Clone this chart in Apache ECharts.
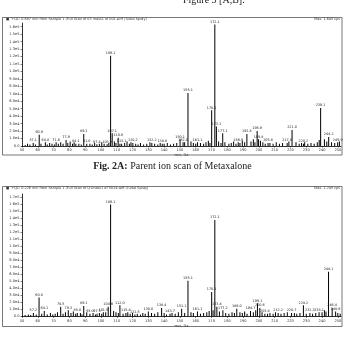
<!DOCTYPE html>
<html>
<head>
<meta charset="utf-8">
<script src="https://cdn.jsdelivr.net/npm/echarts@6/dist/echarts.min.js"></script>
<style>
  html, body { margin: 0; padding: 0; background: #fff; }
  #chart { width: 345px; height: 340px; }
</style>
</head>
<body>
<div id="chart"></div>
<script>
// Fig. 2A - labelled peaks [m/z, intensity cps]
var peaksA = [
  [57.1, 4000], [60.9, 15000], [64.8, 5000], [71.6, 5000], [77.9, 8000],
  [84.1, 3000], [89.1, 16000], [91.0, 3000], [97.4, 2500], [103.9, 2500],
  [106.1, 121000], [107.1, 17000], [110.9, 11000], [113.1, 3000], [120.2, 4000],
  [132.2, 4000], [138.8, 3000], [150.1, 9000], [152.0, 5000], [155.1, 71000],
  [161.1, 5000], [170.1, 48000], [172.1, 163000], [173.1, 26000], [177.1, 17000],
  [186.9, 5000], [192.4, 16000], [198.9, 20000], [199.8, 9000], [205.8, 4000],
  [217.9, 4000], [221.0, 21500], [228.2, 3000], [239.1, 51000], [244.2, 12000],
  [249.9, 5000]
];
// Fig. 2A - unlabelled baseline peaks
var noiseA = [
  [52, 1500], [53.5, 3000], [55, 2000], [58.5, 2000], [62, 3000], [66, 2000],
  [67.5, 4000], [69, 3000], [70.5, 2000], [73, 3000], [74.5, 5000], [76, 3000],
  [79, 4000], [80.5, 6000], [82, 3000], [83, 5000], [86, 3000], [87.5, 2000],
  [93, 3000], [94.5, 2000], [96, 4000], [99, 3000], [100.5, 5000], [102, 3000],
  [105, 4000], [108.5, 6000], [109.5, 4000], [112, 3000], [115, 4000], [116.5, 6000],
  [118, 3000], [119, 5000], [122, 3000], [123.5, 2000], [125, 4000], [127, 2000],
  [129, 3000], [131, 5000], [134, 3000], [136, 2000], [137.5, 4000], [140, 3000],
  [142, 4000], [144, 2000], [146, 3000], [148, 4000], [153, 5000], [157, 6000],
  [158.5, 4000], [160, 3000], [163, 4000], [165, 3000], [166.5, 5000], [168, 7000],
  [169, 4000], [174.5, 6000], [176, 4000], [178.5, 5000], [181, 3000], [182.5, 4000],
  [184, 6000], [185.5, 3000], [188, 4000], [189.5, 7000], [191, 5000], [195, 6000],
  [196.5, 9000], [197.5, 5000], [201, 7000], [202.5, 5000], [204, 3000], [207, 4000],
  [209, 3000], [211, 5000], [213, 3000], [215, 4000], [219, 6000], [223.5, 5000],
  [225.5, 3000], [227, 4000], [229, 5000], [231, 3000], [233, 4000], [235, 3000],
  [237, 5000], [238.2, 8000], [241.5, 9000], [243, 6000], [246, 5000], [248, 4000],
  [251, 6000]
];
// Fig. 2B - labelled peaks
var peaksB = [
  [57.2, 5000], [60.8, 27000], [64.1, 8000], [74.5, 14000], [79.3, 9000],
  [85.0, 5000], [89.1, 15000], [93.0, 4000], [97.5, 4000], [101.5, 6000],
  [104.6, 14000], [106.1, 160000], [112.0, 16000], [115.8, 5000], [121.5, 3000],
  [130.0, 7000], [138.4, 12000], [143.7, 4000], [151.1, 11000], [155.1, 51000],
  [161.1, 7000], [170.1, 35000], [172.1, 138000], [173.4, 14000], [177.2, 9000],
  [186.0, 11000], [194.7, 8000], [199.1, 19000], [200.6, 12000], [203.8, 4000],
  [212.2, 5000], [220.7, 5000], [228.2, 16000], [232.3, 5000], [238.1, 6000],
  [244.1, 64000], [246.4, 12000], [248.6, 7000]
];
// Fig. 2B - unlabelled baseline peaks
var noiseB = [
  [52, 2000], [54, 3000], [55.5, 2000], [59, 3000], [62.5, 4000], [66, 3000],
  [68, 5000], [69.5, 3000], [71, 4000], [72.5, 6000], [76, 4000], [77.5, 6000],
  [81, 5000], [82.5, 7000], [84, 4000], [87, 5000], [88, 3000], [91, 6000],
  [95, 5000], [96.5, 3000], [99, 5000], [100.5, 4000], [103, 6000], [108, 8000],
  [109.5, 6000], [111, 5000], [114, 4000], [117, 6000], [118.5, 4000], [120, 5000],
  [123, 4000], [125, 3000], [126.5, 5000], [128, 4000], [132, 5000], [134, 4000],
  [136, 6000], [140, 5000], [141.5, 3000], [145, 5000], [147, 4000], [149, 6000],
  [153, 5000], [157, 6000], [158.5, 5000], [163, 4000], [165, 5000], [167, 6000],
  [168.5, 8000], [171, 9000], [175, 7000], [179, 5000], [181, 4000], [183, 6000],
  [184.5, 5000], [188, 6000], [189.5, 5000], [191, 7000], [192.5, 4000], [196.5, 6000],
  [198, 9000], [202, 6000], [205.5, 4000], [207, 5000], [209, 4000], [210.5, 6000],
  [214, 4000], [216, 5000], [218, 6000], [222.5, 5000], [224, 4000], [226, 5000],
  [230, 4000], [234, 4000], [236, 5000], [240, 6000], [241.5, 9000], [242.5, 7000],
  [250, 5000], [251.5, 4000]
];
var xMin = 50, xMax = 252, xStep = 10;
var yStepA = 10000, yMaxA = 165000;
var yStepB = 10000, yMaxB = 175000;

function sciLabel(v) {
  if (v === 0) return '0.0';
  return v.toExponential(1).replace('e+', 'e');
}

function buildData(peaks, noise) {
  var out = [];
  noise.forEach(function (p) { out.push({ value: p }); });
  peaks.forEach(function (p) {
    out.push({ value: p, label: { show: true } });
  });
  return out;
}

var myChart = echarts.init(document.getElementById('chart'));

var tickFont = { fontSize: 3.6, color: '#333', fontFamily: 'DejaVu Sans' };

function makeX(gridIndex) {
  return {
    type: 'value', gridIndex: gridIndex, min: xMin, max: xMax, interval: xStep,
    name: 'm/z, Da', nameLocation: 'middle', nameGap: 6,
    nameTextStyle: { fontSize: 3.6, color: '#333', fontFamily: 'DejaVu Sans' },
    axisLine: { lineStyle: { color: '#000', width: 0.8 } },
    axisTick: { length: 1.5, lineStyle: { color: '#000', width: 0.5 } },
    axisLabel: Object.assign({ margin: 2.5, showMaxLabel: false }, tickFont),
    splitLine: { show: false }
  };
}

function makeY(gridIndex, max, step) {
  return {
    type: 'value', gridIndex: gridIndex, min: 0, max: max, interval: step,
    name: 'Intensity, cps', nameLocation: 'middle', nameGap: 15, nameRotate: 90,
    nameTextStyle: { fontSize: 3.6, color: '#333', fontFamily: 'DejaVu Sans' },
    axisLine: { show: true, lineStyle: { color: '#000', width: 0.8 } },
    axisTick: { show: true, length: 1.5, lineStyle: { color: '#000', width: 0.5 } },
    axisLabel: Object.assign({ margin: 2.5, showMaxLabel: false, formatter: sciLabel }, tickFont),
    splitLine: { show: false }
  };
}

function makeSeries(idx, peaks, noise) {
  return {
    type: 'bar', xAxisIndex: idx, yAxisIndex: idx,
    barWidth: 1, silent: true, animation: false,
    itemStyle: { color: '#000' },
    label: {
      show: false, position: 'top', distance: 1,
      fontSize: 3.4, color: '#222', fontFamily: 'DejaVu Sans',
      formatter: function (p) { return p.value[0].toFixed(1); }
    },
    data: buildData(peaks, noise)
  };
}

var option = {
  animation: false,
  backgroundColor: '#fff',
  grid: [
    { left: 22, right: 4, top: 23, height: 123, outerBoundsMode: 'none' },
    { left: 22, right: 4, top: 194, height: 122.5, outerBoundsMode: 'none' }
  ],
  xAxis: [makeX(0), makeX(1)],
  yAxis: [makeY(0, yMaxA, yStepA), makeY(1, yMaxB, yStepB)],
  series: [makeSeries(0, peaksA, noiseA), makeSeries(1, peaksB, noiseB)],
  graphic: [
    { type: 'text', left: 183, top: -5,
      style: { text: 'Figure 3 [A,B].', fontSize: 10, fontFamily: 'Liberation Serif', fill: '#222' } },
    { type: 'rect', shape: { x: 2.5, y: 17.5, width: 339.5, height: 137.5 },
      style: { fill: 'none', stroke: '#555', lineWidth: 0.8 } },
    { type: 'text', left: 6, top: 18,
      style: { text: '\u25A0  +Q1: 0.687 min from Sample 1 (Full Scan of 03 mass1 of 001.wiff (Turbo Spray)',
        fontSize: 3.4, fontFamily: 'DejaVu Sans', fill: '#333' } },
    { type: 'text', right: 5, top: 18,
      style: { text: 'Max. 1.6e5 cps', fontSize: 3.4, fontFamily: 'DejaVu Sans', fill: '#333' } },
    { type: 'text', left: 'center', top: 161,
      style: { rich: {
        b: { fontSize: 10, fontWeight: 'bold', fontFamily: 'Liberation Serif', fill: '#222' },
        n: { fontSize: 10, fontFamily: 'Liberation Serif', fill: '#222' }
      }, text: '{b|Fig. 2A:}{n| Parent ion scan of Metaxalone}' } },
    { type: 'rect', shape: { x: 2.5, y: 186.5, width: 339.5, height: 140 },
      style: { fill: 'none', stroke: '#555', lineWidth: 0.8 } },
    { type: 'text', left: 6, top: 187,
      style: { text: '\u25A0  +Q1: 0.226 min from Sample 1 (Full Scan of Q1mass1 of 5014.wiff (Turbo Spray)',
        fontSize: 3.4, fontFamily: 'DejaVu Sans', fill: '#333' } },
    { type: 'text', right: 5, top: 187,
      style: { text: 'Max. 1.7e5 cps', fontSize: 3.4, fontFamily: 'DejaVu Sans', fill: '#333' } }
  ]
};
myChart.setOption(option);
</script>
</body>
</html>
